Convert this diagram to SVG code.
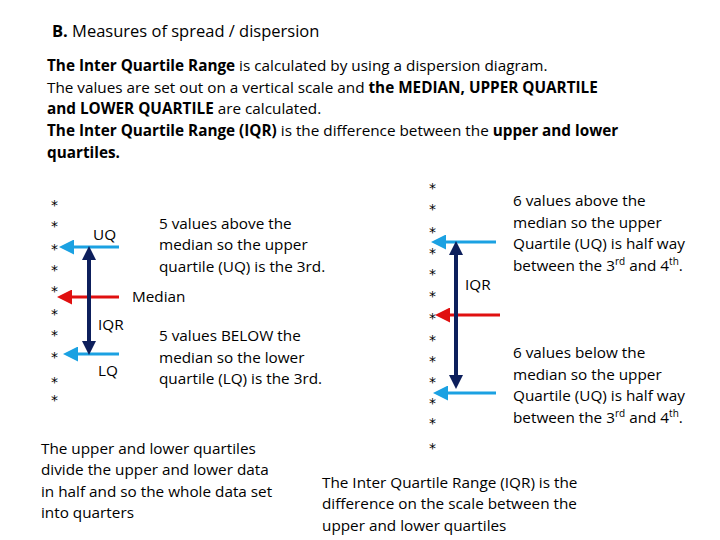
<svg xmlns="http://www.w3.org/2000/svg" width="720" height="540" viewBox="0 0 720 540">
<style>
text{font-family:"Open Sans","Liberation Sans",sans-serif;font-size:15.3px;fill:#000}
.b{font-weight:bold}
.s{font-size:14px;font-family:"DejaVu Sans",sans-serif}
.lb{stroke:#1ba1e2;stroke-width:3;fill:none}
.rd{stroke:#e01010;stroke-width:3;fill:none}
.dk{stroke:#0d1f5c;stroke-width:4;fill:none}
</style>
<defs>
<marker id="al" markerWidth="5" markerHeight="5" refX="2" refY="2.5" orient="auto" markerUnits="strokeWidth"><path d="M0,0L5,2.5L0,5Z" fill="#1ba1e2"/></marker>
<marker id="ar" markerWidth="5" markerHeight="5" refX="2" refY="2.5" orient="auto" markerUnits="strokeWidth"><path d="M0,0L5,2.5L0,5Z" fill="#e01010"/></marker>
<marker id="ad" markerWidth="3.5" markerHeight="3.5" refX="1.5" refY="1.75" orient="auto-start-reverse" markerUnits="strokeWidth"><path d="M0,0L3.5,1.75L0,3.5Z" fill="#0d1f5c"/></marker>
</defs>
<g id="title"><text x="52" y="37" style="font-size:16.5px"><tspan class="b">B.</tspan>  Measures of spread / dispersion</text></g>
<g id="intro">
<text x="47" y="71"><tspan class="b">The Inter Quartile Range</tspan> is calculated by using a dispersion diagram.</text>
<text x="47" y="93">The values are set out on a vertical scale and <tspan class="b">the MEDIAN, UPPER QUARTILE</tspan></text>
<text x="47" y="114"><tspan class="b">and LOWER QUARTILE</tspan>  are calculated.</text>
<text x="47" y="136"><tspan class="b">The Inter Quartile Range (IQR)</tspan> is the difference between the <tspan class="b">upper and lower</tspan></text>
<text x="47" y="158" class="b">quartiles.</text>
</g>
<g id="left-stars">
<text class="s" x="51" y="210">*</text><text class="s" x="51" y="231">*</text><text class="s" x="51" y="254">*</text><text class="s" x="51" y="275">*</text><text class="s" x="51" y="296">*</text><text class="s" x="51" y="319">*</text><text class="s" x="51" y="340">*</text><text class="s" x="51" y="362">*</text><text class="s" x="51" y="387">*</text><text class="s" x="51" y="405">*</text>
</g>
<g id="right-stars">
<text class="s" x="429" y="193">*</text><text class="s" x="429" y="214">*</text><text class="s" x="429" y="237">*</text><text class="s" x="429" y="258">*</text><text class="s" x="429" y="279">*</text><text class="s" x="429" y="301">*</text><text class="s" x="429" y="323">*</text><text class="s" x="429" y="345">*</text><text class="s" x="429" y="366">*</text><text class="s" x="429" y="387">*</text><text class="s" x="429" y="408">*</text><text class="s" x="429" y="428">*</text><text class="s" x="429" y="453">*</text>
</g>
<g id="connectors">
<line class="lb" x1="119" y1="247" x2="68" y2="247" marker-end="url(#al)"/>
<line class="rd" x1="119" y1="297" x2="66" y2="297" marker-end="url(#ar)"/>
<line class="lb" x1="119" y1="354" x2="72" y2="354" marker-end="url(#al)"/>
<line class="dk" x1="89" y1="254" x2="89" y2="347" marker-start="url(#ad)" marker-end="url(#ad)"/>
<line class="lb" x1="496" y1="242" x2="440" y2="242" marker-end="url(#al)"/>
<line class="rd" x1="500" y1="315" x2="444" y2="315" marker-end="url(#ar)"/>
<line class="lb" x1="496" y1="393" x2="442" y2="393" marker-end="url(#al)"/>
<line class="dk" x1="456" y1="249" x2="456" y2="381" marker-start="url(#ad)" marker-end="url(#ad)"/>
</g>
<g id="left-labels">
<text x="93" y="240">UQ</text>
<text x="132" y="302">Median</text>
<text x="98" y="330">IQR</text>
<text x="98" y="376">LQ</text>
</g>
<g id="left-notes">
<text x="159" y="229">5 values above the</text>
<text x="159" y="250">median so the upper</text>
<text x="159" y="272">quartile (UQ) is the 3rd.</text>
<text x="159" y="341">5 values BELOW the</text>
<text x="159" y="363">median so the lower</text>
<text x="159" y="384">quartile (LQ) is the 3rd.</text>
</g>
<g id="right-notes">
<text x="465" y="290">IQR</text>
<text x="513" y="206">6 values above the</text>
<text x="513" y="228">median so the upper</text>
<text x="513" y="249">Quartile (UQ) is half way</text>
<text x="513" y="271">between the 3<tspan font-size="10" dy="-6">rd</tspan><tspan dy="6"> and 4</tspan><tspan font-size="10" dy="-6">th</tspan><tspan dy="6">.</tspan></text>
<text x="513" y="358">6 values below the</text>
<text x="513" y="380">median so the upper</text>
<text x="513" y="401">Quartile (UQ) is half way</text>
<text x="513" y="423">between the 3<tspan font-size="10" dy="-6">rd</tspan><tspan dy="6"> and 4</tspan><tspan font-size="10" dy="-6">th</tspan><tspan dy="6">.</tspan></text>
</g>
<g id="bottom-notes">
<text x="41" y="454">The upper and lower quartiles</text>
<text x="41" y="475">divide the upper and lower data</text>
<text x="41" y="497">in half and so the whole data set</text>
<text x="41" y="518">into quarters</text>
<text x="322" y="488">The Inter Quartile Range (IQR) is the</text>
<text x="322" y="509">difference on the scale between the</text>
<text x="322" y="531">upper and lower quartiles</text>
</g>
</svg>
